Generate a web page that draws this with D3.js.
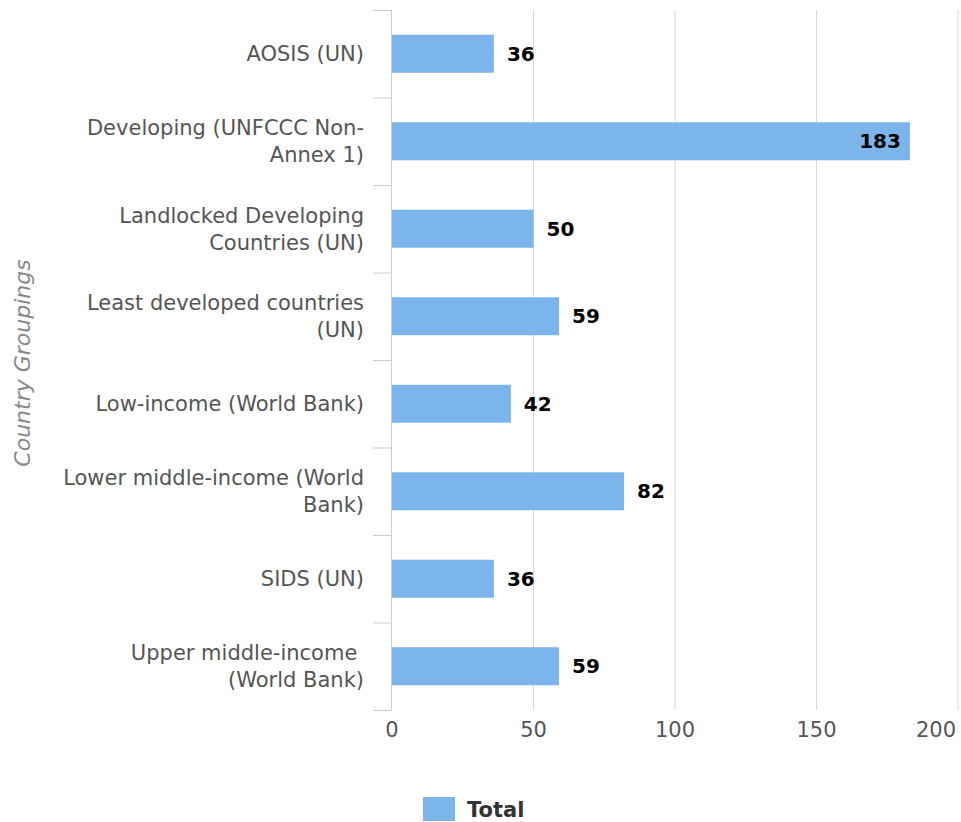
<!DOCTYPE html>
<html>
<head>
<meta charset="utf-8">
<script src="https://cdn.jsdelivr.net/npm/d3@7"></script>
<style>
	body { margin: 0; background: #fff; }
	text { font-family: "DejaVu Sans", Verdana, sans-serif; }
</style>
</head>
<body>
<svg id="chart" width="961" height="822"></svg>
<script>
'use strict';

// categories (label lines) and the single series
const categories = [
	['AOSIS (UN)'],
	['Developing (UNFCCC Non-', 'Annex 1)'],
	['Landlocked Developing', 'Countries (UN)'],
	['Least developed countries', '(UN)'],
	['Low-income (World Bank)'],
	['Lower middle-income (World', 'Bank)'],
	['SIDS (UN)'],
	['Upper middle-income ', '(World Bank)']
];
const totals = [36, 183, 50, 59, 42, 82, 36, 59];
const xTicks = [0, 50, 100, 150, 200];
const seriesName = 'Total';
const axisTitle = 'Country Groupings';

const svg = d3.select('#chart');
const margin = { top: 10, left: 392, right: 3, bottom: 112 };
const width = 961 - margin.left - margin.right;
const height = 822 - margin.top - margin.bottom;

const g = svg.append('g')
	.attr('transform', `translate(${margin.left},${margin.top})`);

const x = d3.scaleLinear().domain([0, 200]).range([0, width]);
const y = d3.scaleBand()
	.domain(d3.range(categories.length))
	.range([0, height])
	.padding(0);
const barH = 38;

// vertical grid lines
g.append('g').selectAll('line')
	.data(xTicks.slice(1))
	.join('line')
		.attr('x1', d => x(d)).attr('x2', d => x(d))
		.attr('y1', 0).attr('y2', height)
		.attr('stroke', '#d8d8d8');

// bars
g.append('g').selectAll('rect')
	.data(totals)
	.join('rect')
		.attr('x', x(0))
		.attr('y', (d, i) => y(i) + (y.bandwidth() - barH) / 2)
		.attr('width', d => x(d) - x(0))
		.attr('height', barH)
		.attr('fill', '#7cb5ec');

// value labels (inside when the bar runs to the edge)
const inside = d => x(d) > width - 60;
g.append('g').selectAll('text')
	.data(totals)
	.join('text')
		.attr('x', d => inside(d) ? x(d) - 9 : x(d) + 13)
		.attr('y', (d, i) => y(i) + y.bandwidth() / 2)
		.attr('dy', '0.35em')
		.attr('text-anchor', d => inside(d) ? 'end' : 'start')
		.attr('font-size', 20)
		.attr('font-weight', 'bold')
		.attr('fill', '#000')
		.text(d => d);

// category axis
const yAxis = g.append('g');
yAxis.append('line')
	.attr('x1', -0.5).attr('x2', -0.5)
	.attr('y1', 0).attr('y2', height)
	.attr('stroke', '#c0d0e0');
yAxis.selectAll('line.tick')
	.data(d3.range(categories.length + 1))
	.join('line')
		.attr('class', 'tick')
		.attr('x1', -19).attr('x2', -0.5)
		.attr('y1', i => i * y.step() + 0.5)
		.attr('y2', i => i * y.step() + 0.5)
		.attr('stroke', '#c0d0e0');

const lineH = 27;
yAxis.selectAll('text.cat')
	.data(categories)
	.join('text')
		.attr('class', 'cat')
		.attr('text-anchor', 'end')
		.attr('font-size', 21)
		.attr('fill', '#555')
		.each(function(lines, i) {
			const cy = y(i) + y.bandwidth() / 2;
			const y0 = cy - (lines.length - 1) * lineH / 2;
			d3.select(this).selectAll('tspan')
				.data(lines)
				.join('tspan')
					.attr('x', -28)
					.attr('y', (l, j) => y0 + j * lineH)
					.attr('dy', '0.35em')
					.style('white-space', 'pre')
					.text(l => l);
		});

// numeric axis labels, last one pulled inside the chart
g.append('g').selectAll('text')
	.data(xTicks)
	.join('text')
		.attr('x', (d, i) => i === xTicks.length - 1 ? width - 2 : x(d))
		.attr('y', height + 27)
		.attr('text-anchor', (d, i) => i === xTicks.length - 1 ? 'end' : 'middle')
		.attr('font-size', 21)
		.attr('fill', '#555')
		.text(d => d);

// axis title
svg.append('text')
	.attr('transform', `translate(30,${margin.top + height / 2 + 3}) rotate(-90)`)
	.attr('text-anchor', 'middle')
	.attr('font-size', 22)
	.attr('font-style', 'italic')
	.attr('fill', '#888')
	.text(axisTitle);

// legend
const legend = svg.append('g').attr('transform', 'translate(423,797)');
legend.append('rect')
	.attr('width', 32).attr('height', 24)
	.attr('fill', '#7cb5ec');
legend.append('text')
	.attr('x', 44).attr('y', 20)
	.attr('font-size', 21)
	.attr('font-weight', 'bold')
	.attr('fill', '#333')
	.text(seriesName);
</script>
</body>
</html>
